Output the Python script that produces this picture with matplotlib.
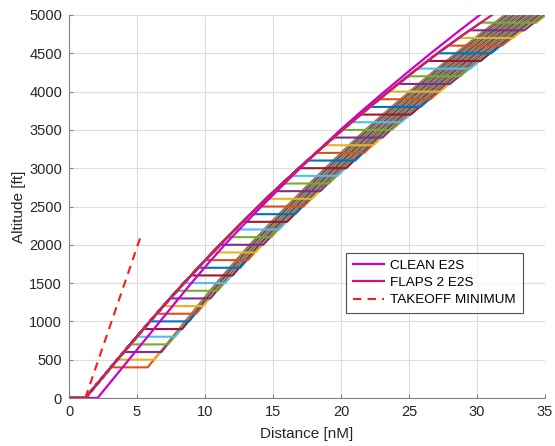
import numpy as np
import matplotlib
matplotlib.use('Agg')
import matplotlib.pyplot as plt

plt.rcParams['font.family'] = ['Liberation Sans', 'DejaVu Sans']

# climb profiles (distance in nM at altitude in ft)
prof_alt = [0, 250, 500, 750, 1000, 1250, 1500, 1750, 2000, 2250, 2500,
            2750, 3000, 3250, 3500, 3750, 4000, 4250, 4500, 4750, 5000]
flaps_dist = [1.2, 2.38, 3.55, 4.74, 5.95, 7.18, 8.45, 9.76, 11.1, 12.48, 13.9,
              15.38, 16.9, 18.48, 20.1, 21.78, 23.5, 25.27, 27.1, 29.05, 31.1]
clean_dist = [2.1, 3.25, 4.4, 5.55, 6.7, 7.84, 9.0, 10.2, 11.45, 12.78, 14.15,
              15.56, 17.0, 18.46, 19.95, 21.55, 23.2, 24.88, 26.6, 28.38, 30.2]

# takeoff minimum gradient line
tom_dist = [1.2, 5.35]
tom_alt = [0, 2150]

# level-off (E2S acceleration) altitudes and level segment lengths
level_alt = [400, 500, 600, 700, 800, 900, 1000, 1100, 1200, 1300, 1400, 1500,
             1600, 1700, 1800, 1900, 2000, 2100, 2200, 2300, 2400, 2500, 2600,
             2700, 2800, 2900, 3000, 3100, 3200, 3300, 3400, 3500, 3600, 3700,
             3800, 3900, 4000, 4100, 4200, 4300, 4400, 4500, 4600, 4700, 4800, 4900]
level_len = [2.70, 2.73, 2.76, 2.79, 2.82, 2.85, 2.88, 2.91, 2.94, 2.97, 3.00, 3.03,
             3.06, 3.09, 3.12, 3.15, 3.18, 3.21, 3.24, 3.27, 3.30, 3.33, 3.36,
             3.39, 3.42, 3.45, 3.48, 3.51, 3.54, 3.57, 3.60, 3.63, 3.66, 3.69,
             3.72, 3.75, 3.78, 3.81, 3.84, 3.87, 3.90, 3.93, 3.96, 3.99, 4.02, 4.05]

matlab_colors = ['#0072BD', '#D95319', '#EDB120', '#7E2F8E', '#77AC30', '#4DBEEE', '#A2142F']

dpi = 100
fig = plt.figure(figsize=(555/dpi, 446/dpi), dpi=dpi)
ax = fig.add_axes([69/555, 48/446, 476/555, 383/446])

pa = np.array(prof_alt, dtype=float)
fd = np.array(flaps_dist)
cd = np.array(clean_dist)

# each case: flaps climb, level-off acceleration, then clean climb
for i, (L, d) in enumerate(zip(level_alt, level_len)):
    xl = np.interp(L, pa, fd)
    cl = np.interp(L, pa, cd)
    below = pa < L
    above = pa > L
    xs = np.concatenate([[0.0], fd[below], [xl, xl + d], xl + d + cd[above] - cl])
    hs = np.concatenate([[0.0], pa[below], [L, L], pa[above]])
    ax.plot(xs, hs, color=matlab_colors[(i + 1) % 7], lw=1.5)

ax.plot([0] + clean_dist, [0] + prof_alt, color='#CC00CC', lw=1.6, label='CLEAN E2S')
ax.plot([0] + flaps_dist, [0] + prof_alt, color='#D6156E', lw=1.6, label='FLAPS 2 E2S')
ax.plot(tom_dist, tom_alt, color='#FF1A1A', lw=1.5, ls=(0, (4, 3)), label='TAKEOFF MINIMUM')

ax.set_xlim(0, 35)
ax.set_ylim(0, 5000)
ax.set_xticks(range(0, 36, 5))
ax.set_yticks(range(0, 5001, 500))
ax.grid(True, color='#DCDCDC', lw=0.8)
ax.set_axisbelow(True)
for s in ['top', 'right']:
    ax.spines[s].set_visible(False)
for s in ['left', 'bottom']:
    ax.spines[s].set_color('#808080')
ax.tick_params(direction='in', length=3, pad=5, colors='#808080', labelcolor='#262626', labelsize=10.5)
ax.set_xlabel('Distance [nM]', fontsize=11, color='#262626', labelpad=6)
ax.set_ylabel('Altitude [ft]', fontsize=11, color='#262626', labelpad=2)

leg = ax.legend(loc='upper left', bbox_to_anchor=(0.582, 0.379), borderaxespad=0,
                fontsize=9.7, frameon=True, fancybox=False, edgecolor='#262626',
                handlelength=2.3, borderpad=0.5, labelspacing=0.35, handletextpad=0.5)
leg.get_frame().set_linewidth(0.8)

plt.savefig('out.png', dpi=dpi)
